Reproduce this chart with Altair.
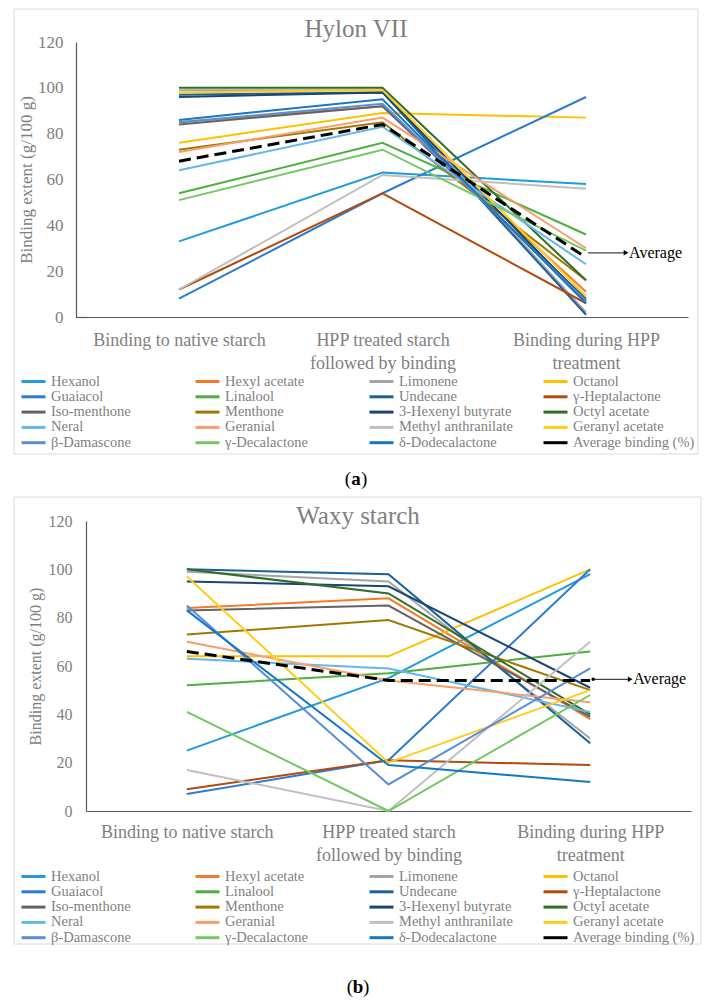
import altair as alt
import pandas as pd

# ---------------- data ----------------
categories = [
    "Binding to native starch",
    "HPP treated starch followed by binding",
    "Binding during HPP treatment",
]
compounds = [
    "Hexanol", "Hexyl acetate", "Limonene", "Octanol",
    "Guaiacol", "Linalool", "Undecane", "γ-Heptalactone",
    "Iso-menthone", "Menthone", "3-Hexenyl butyrate", "Octyl acetate",
    "Neral", "Geranial", "Methyl anthranilate", "Geranyl acetate",
    "β-Damascone", "γ-Decalactone", "δ-Dodecalactone",
]
average_name = "Average binding (%)"
line_colors = [
    "#1f9bde", "#f47a2a", "#a5a5a5", "#ffc000",
    "#2b7bd0", "#4daf3d", "#1a6099", "#b34a0c",
    "#636363", "#a07700", "#1c4474", "#2f6e26",
    "#66b6ea", "#f79e6c", "#bfbfbf", "#ffcc1a",
    "#5a8dd8", "#75c765", "#1578c0",
]

# Hylon VII (panel a)
hylon_native = [33, 85, 99, 76, 8, 54, 97, 12, 84, 73, 96, 100, 64, 72, 12, 98, 85, 51, 86]
hylon_treated = [63, 92, 99, 89, 54, 76, 98, 54, 92, 85, 98, 100, 83, 87, 62, 99, 93, 73, 95]
hylon_during = [58, 11, 2, 87, 96, 36, 1, 6, 8, 16, 7, 16, 23, 30, 56, 9, 7, 29, 6]
hylon_average = [68, 84, 26]
hylon_arrow = 28

# Waxy starch (panel b)
waxy_native = [25, 84, 99, 64, 7, 52, 100, 9, 83, 73, 95, 100, 63, 70, 17, 97, 85, 41, 83]
waxy_treated = [55, 88, 95, 64, 21, 57, 98, 21, 85, 79, 93, 90, 59, 54, 0, 20, 11, 0, 19]
waxy_during = [98, 38, 30, 100, 100, 66, 28, 19, 39, 50, 51, 40, 41, 45, 70, 50, 59, 48, 12]
waxy_average = [66, 54, 54]
waxy_arrow = 54.5

SERIF = "Liberation Serif"
GREY = "#7f7f7f"
AXIS = "#595959"

label_expr = (
    "datum.value == 'HPP treated starch followed by binding' ? "
    "['HPP treated starch', 'followed by binding'] : "
    "(datum.value == 'Binding during HPP treatment' ? "
    "['Binding during HPP', 'treatment'] : datum.value)"
)


def panel(title_text, letter, native, treated, during, average, arrow_value,
          w, h, box, title_xy, legend_xy, letter_xy, tick_size, label_size,
          xlabel_pad, ylabel_pad, ytitle_pad, show_dot, y_offset,
          x_padding, x_align):
    rows = []
    for i, name in enumerate(compounds):
        for cat, v in zip(categories, (native[i], treated[i], during[i])):
            rows.append({"compound": name, "category": cat, "value": v})
    lines_df = pd.DataFrame(rows)
    avg_df = pd.DataFrame({"compound": [average_name] * 3,
                           "category": categories, "value": average})
    ann_df = pd.DataFrame({"category": [categories[2]], "value": [arrow_value],
                           "label": ["Average"]})

    x_enc = alt.X(
        "category:N", sort=categories,
        scale=alt.Scale(type="point", padding=x_padding, align=x_align),
        axis=alt.Axis(title=None, labelAngle=0, ticks=False, labelExpr=label_expr,
                      labelFont=SERIF, labelFontSize=label_size, labelColor=GREY,
                      labelLineHeight=23, labelPadding=xlabel_pad, labelLimit=400,
                      domainColor=AXIS, domainWidth=1.2),
    )
    y_enc = alt.Y(
        "value:Q", scale=alt.Scale(domain=[0, 120], nice=False),
        axis=alt.Axis(title="Binding extent (g/100 g)",
                      values=[0, 20, 40, 60, 80, 100, 120],
                      ticks=False, grid=False, labelFont=SERIF,
                      labelFontSize=tick_size, labelColor=GREY,
                      labelPadding=ylabel_pad, titleFont=SERIF,
                      titleFontSize=tick_size, titleFontWeight="normal",
                      titleColor=GREY, titlePadding=ytitle_pad,
                      domainColor=AXIS, domainWidth=1.2, offset=y_offset),
    )
    color_enc = alt.Color(
        "compound:N",
        scale=alt.Scale(domain=compounds + [average_name],
                        range=line_colors + ["#000000"]),
        legend=alt.Legend(
            title=None, orient="none", legendX=legend_xy[0], legendY=legend_xy[1],
            columns=4, direction="horizontal", symbolType="M-2,0H2",
            symbolStrokeWidth=3, symbolSize=144,
            labelFont=SERIF, labelFontSize=14.5, labelColor=GREY, labelOffset=10,
            columnPadding=16, rowPadding=0.3, gridAlign="all", labelLimit=300,
        ),
    )

    box_layer = alt.Chart(pd.DataFrame({"k": [0]})).mark_rect(
        fillOpacity=0, stroke="#d9d9d9", strokeWidth=1
    ).encode(x=alt.value(box[0]), x2=alt.value(box[1]),
             y=alt.value(box[2]), y2=alt.value(box[3]))

    lines = alt.Chart(lines_df).mark_line(strokeWidth=2).encode(
        x=x_enc, y=y_enc, color=color_enc)
    avg = alt.Chart(avg_df).mark_line(strokeWidth=3, strokeDash=[12, 6]).encode(
        x=x_enc, y=y_enc, color=color_enc)

    rule = alt.Chart(ann_df).mark_rule(color="#404040", strokeWidth=1.2,
                                       xOffset=2, x2Offset=40).encode(
        x=x_enc, x2=alt.X2("category"), y=y_enc)
    head = alt.Chart(ann_df).mark_point(shape="triangle-right", filled=True,
                                        size=30, color="black", opacity=1,
                                        xOffset=40).encode(x=x_enc, y=y_enc)
    txt = alt.Chart(ann_df).mark_text(align="left", baseline="middle", dx=43,
                                      font=SERIF, fontSize=16, color="black").encode(
        x=x_enc, y=y_enc, text="label:N")

    tdf = pd.DataFrame({"t": [title_text]})
    title = alt.Chart(tdf).mark_text(font=SERIF, fontSize=25, color=GREY,
                                     baseline="middle").encode(
        x=alt.value(title_xy[0]), y=alt.value(title_xy[1]), text="t:N")

    ldf = pd.DataFrame({"o": ["("], "l": [letter], "c": [")"]})
    lo = alt.Chart(ldf).mark_text(font=SERIF, fontSize=19, color="black",
                                  align="right", baseline="middle", dx=-5).encode(
        x=alt.value(letter_xy[0]), y=alt.value(letter_xy[1]), text="o:N")
    lm = alt.Chart(ldf).mark_text(font=SERIF, fontSize=19, color="black",
                                  fontWeight="bold", align="center",
                                  baseline="middle").encode(
        x=alt.value(letter_xy[0]), y=alt.value(letter_xy[1]), text="l:N")
    lc = alt.Chart(ldf).mark_text(font=SERIF, fontSize=19, color="black",
                                  align="left", baseline="middle", dx=5).encode(
        x=alt.value(letter_xy[0]), y=alt.value(letter_xy[1]), text="c:N")

    layers = [box_layer]
    if y_offset:
        # extend the x-axis line to the offset y-axis
        filler = alt.Chart(pd.DataFrame({"k": [0]})).mark_rule(
            color=AXIS, strokeWidth=1.2).encode(
            x=alt.value(-y_offset), x2=alt.value(1),
            y=alt.value(h + 0.5))
        layers.append(filler)
    layers += [lines, avg, rule, head]
    if show_dot:
        dot = alt.Chart(ann_df).mark_point(shape="circle", filled=True, size=12,
                                           color="black", opacity=1,
                                           xOffset=3).encode(x=x_enc, y=y_enc)
        layers.append(dot)
    layers += [txt, title, lo, lm, lc]
    return alt.layer(*layers).properties(width=w, height=h)


panel_a = panel("Hylon VII", "a", hylon_native, hylon_treated, hylon_during,
                hylon_average, hylon_arrow,
                w=602, h=275, box=(-72, 612, -33, 412), title_xy=(270, -13),
                legend_xy=(-60, 332), letter_xy=(270, 437), tick_size=17,
                label_size=18, xlabel_pad=14, ylabel_pad=13, ytitle_pad=2,
                show_dot=False, y_offset=10, x_padding=0.479, x_align=0.477)
panel_b = panel("Waxy starch", "b", waxy_native, waxy_treated, waxy_during,
                waxy_average, waxy_arrow,
                w=605, h=290, box=(-72, 615, -24, 423), title_xy=(272, -5),
                legend_xy=(-60, 348), letter_xy=(272, 466), tick_size=16,
                label_size=18, xlabel_pad=12, ylabel_pad=14, ytitle_pad=5,
                show_dot=True, y_offset=0, x_padding=0.5, x_align=0.5)

chart = alt.concat(panel_a, panel_b, columns=1, spacing=7, align="none",
                   bounds="full").resolve_scale(
    color="independent").properties(
    padding={"left": 5, "top": 0, "right": 0, "bottom": 0}
).configure_view(stroke=None)

chart.save("out.html", embed_options={"renderer": "svg", "actions": False})
